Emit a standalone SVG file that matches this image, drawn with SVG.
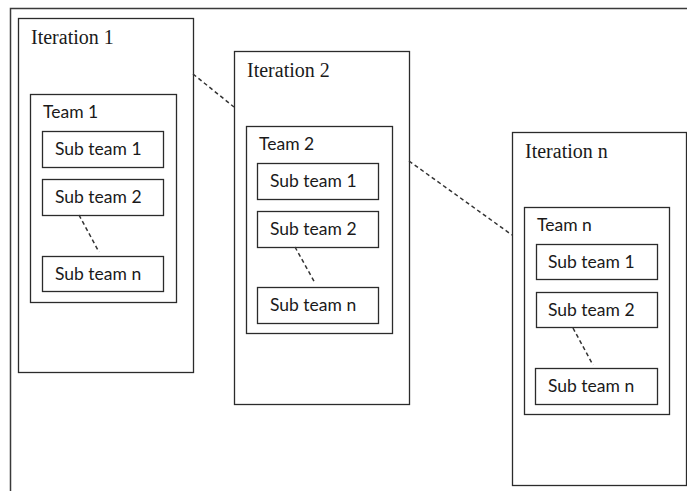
<svg xmlns="http://www.w3.org/2000/svg" width="687" height="491" viewBox="0 0 687 491">
  <style>
    .box { fill: #ffffff; stroke: #2b2b2b; stroke-width: 1.3; }
    .frame { fill: none; stroke: #3a3a3a; stroke-width: 1.5; }
    .dash { fill: none; stroke: #333333; stroke-width: 1.5; stroke-dasharray: 4 3; }
    .iter { font-family: "Liberation Serif", "Times New Roman", serif; font-size: 20px; fill: #1a1a1a; }
    .lbl { font-family: Lato, "Open Sans", "Liberation Sans", sans-serif; font-size: 17.5px; fill: #1a1a1a; }
  </style>
  <rect width="687" height="491" fill="#ffffff"/>
  <!-- outer frame: top and left edges only -->
  <path class="frame" d="M10.5 491 V8.5 H687"/>

  <g id="iteration-1">
    <rect class="box" x="18.5" y="18.5" width="175" height="354"/>
    <text class="iter" x="31" y="44">Iteration 1</text>
    <g id="team-1">
      <rect class="box" x="30.5" y="94.5" width="146" height="208"/>
      <text class="lbl" x="43" y="118">Team 1</text>
      <g id="team-1-sub-1"><rect class="box" x="42.5" y="131.5" width="121" height="36"/><text class="lbl" x="55" y="155">Sub team 1</text></g>
      <g id="team-1-sub-2"><rect class="box" x="42.5" y="179.5" width="121" height="36"/><text class="lbl" x="55" y="203">Sub team 2</text></g>
      <g id="team-1-sub-n"><rect class="box" x="42.5" y="256.5" width="121" height="35"/><text class="lbl" x="55" y="280">Sub team n</text></g>
    </g>
  </g>

  <g id="iteration-2">
    <rect class="box" x="234.5" y="51.5" width="175" height="353"/>
    <text class="iter" x="247" y="77">Iteration 2</text>
    <g id="team-2">
      <rect class="box" x="246.5" y="126.5" width="146" height="207"/>
      <text class="lbl" x="259" y="150">Team 2</text>
      <g id="team-2-sub-1"><rect class="box" x="257.5" y="163.5" width="121" height="36"/><text class="lbl" x="270" y="187">Sub team 1</text></g>
      <g id="team-2-sub-2"><rect class="box" x="257.5" y="211.5" width="121" height="36"/><text class="lbl" x="270" y="235">Sub team 2</text></g>
      <g id="team-2-sub-n"><rect class="box" x="257.5" y="287.5" width="121" height="36"/><text class="lbl" x="270" y="311">Sub team n</text></g>
    </g>
  </g>

  <g id="iteration-n">
    <rect class="box" x="512.5" y="132.5" width="174" height="353"/>
    <text class="iter" x="525" y="158">Iteration n</text>
    <g id="team-n">
      <rect class="box" x="524.5" y="207.5" width="145" height="207"/>
      <text class="lbl" x="537" y="231">Team n</text>
      <g id="team-n-sub-1"><rect class="box" x="536.5" y="244.5" width="121" height="35"/><text class="lbl" x="548" y="268">Sub team 1</text></g>
      <g id="team-n-sub-2"><rect class="box" x="536.5" y="292.5" width="121" height="35"/><text class="lbl" x="548" y="316">Sub team 2</text></g>
      <g id="team-n-sub-n"><rect class="box" x="535.5" y="368.5" width="122" height="36"/><text class="lbl" x="548" y="392">Sub team n</text></g>
    </g>
  </g>

  <g id="connectors">
    <line class="dash" x1="193" y1="74" x2="234" y2="107"/>
    <line class="dash" x1="409" y1="161" x2="512" y2="235"/>
    <line class="dash" x1="79" y1="215" x2="99" y2="252"/>
    <line class="dash" x1="295" y1="247" x2="315" y2="283"/>
    <line class="dash" x1="573" y1="328" x2="593" y2="365"/>
  </g>
</svg>
